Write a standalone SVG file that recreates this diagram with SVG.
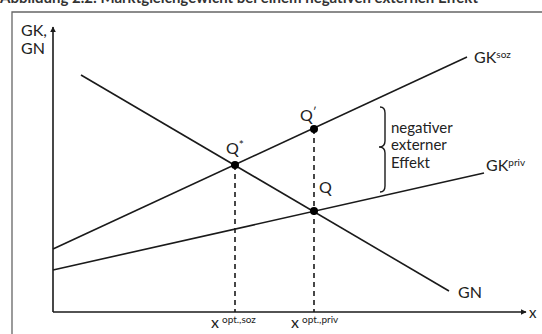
<svg xmlns="http://www.w3.org/2000/svg" width="542" height="334" viewBox="0 0 542 334">
<style>
text{font-family:Lato,"Liberation Sans",sans-serif;fill:#222}
.lbl{font-size:15px}
.big{font-size:16px}
.sup{font-size:10px}
.curve{stroke:#1a1a1a;stroke-width:1.6;fill:none}
.dash{stroke:#1a1a1a;stroke-width:1.6;stroke-dasharray:5,4;fill:none}
.axis{stroke:#1a1a1a;stroke-width:1.6;fill:none}
.pt{fill:#000}
</style>
<defs>
<marker id="ah" viewBox="0 0 10 10" refX="9" refY="5" markerWidth="6" markerHeight="6" orient="auto" markerUnits="userSpaceOnUse">
<path d="M0,0 L10,5 L0,10 z" fill="#1a1a1a"/>
</marker>
</defs>
<rect width="542" height="334" fill="#fff"/>
<text x="0" y="2.5" style="font-size:15px;font-weight:bold;fill:#333">Abbildung 2.2: Marktgleichgewicht bei einem negativen externen Effekt</text>
<path d="M12,334 V12 H542" stroke="#666" stroke-width="1.3" fill="none"/>
<g id="axes">
<path class="axis" d="M53,312 V27" marker-end="url(#ah)"/>
<path class="axis" d="M53,312 H526" marker-end="url(#ah)"/>
<text class="big" x="21" y="36">GK,</text>
<text class="big" x="21" y="54">GN</text>
<text class="lbl" x="529" y="318">x</text>
</g>
<g id="connectors">
<line class="curve" x1="53" y1="249" x2="467" y2="57"/>
<line class="curve" x1="53" y1="270" x2="484" y2="173"/>
<line class="curve" x1="81" y1="75" x2="449" y2="291"/>
<line class="dash" x1="235" y1="165" x2="235" y2="312"/>
<line class="dash" x1="314" y1="129" x2="314" y2="312"/>
</g>
<g id="GKsoz"><text class="big" x="474" y="63">GK<tspan class="sup" dy="-5">soz</tspan></text></g>
<g id="GKpriv"><text class="big" x="486" y="171">GK<tspan class="sup" dy="-5">priv</tspan></text></g>
<g id="GN"><text class="big" x="458" y="298">GN</text></g>
<g id="Qstar"><circle class="pt" cx="235" cy="165" r="4"/><text class="big" x="226" y="154">Q<tspan style="font-size:12px" dy="-5">*</tspan></text></g>
<g id="Qprime"><circle class="pt" cx="314" cy="129" r="4"/><text class="big" x="300" y="121">Q<tspan style="font-size:12px" dy="-5">ʹ</tspan></text></g>
<g id="Q"><circle class="pt" cx="314" cy="211" r="4"/><text class="big" x="319" y="193">Q</text></g>
<g id="effekt">
<path d="M380,107 Q385,107 385,113 V141 Q385,147 379,147 Q385,147 385,153 V186 Q385,192 380,192" stroke="#1a1a1a" stroke-width="1.4" fill="none"/>
<text class="lbl" x="391" y="133">negativer</text>
<text class="lbl" x="391" y="150">externer</text>
<text class="lbl" x="391" y="168">Effekt</text>
</g>
<g id="xsoz"><text class="big" x="211" y="328">x<tspan class="sup" dx="3" dy="-5">opt.,soz</tspan></text></g>
<g id="xpriv"><text class="big" x="291" y="328">x<tspan class="sup" dx="3" dy="-5">opt.,priv</tspan></text></g>
</svg>
